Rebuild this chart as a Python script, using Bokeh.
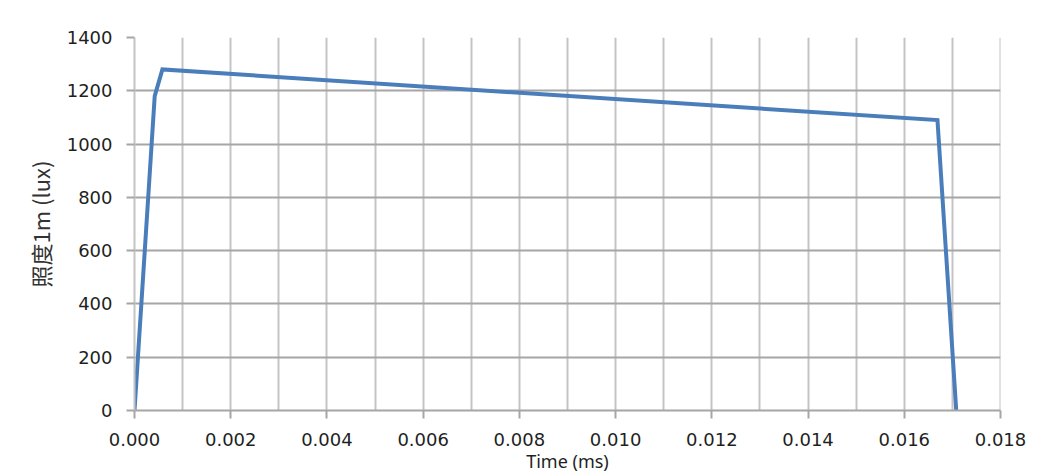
from bokeh.plotting import figure
from bokeh.models import SingleIntervalTicker, PrintfTickFormatter, Range1d
from bokeh.embed import file_html
from bokeh.resources import INLINE

# Data (time as labelled on the axis, illuminance at 1 m in lux)
time_vals = [0.0, 0.00042, 0.00058, 0.01669, 0.01708]
lux_vals = [0, 1180, 1280, 1090, 0]

x_title = "Time (ms)"
y_title = "照度1m (lux)"

W, H = 1032, 476
p = figure(width=W, height=H, output_backend="svg", toolbar_location=None,
           x_range=Range1d(0, 0.0180001), y_range=Range1d(0, 1400),
           min_border_left=134, min_border_right=W - 1000, min_border_top=37,
           min_border_bottom=H - 410)
p.outline_line_color = None
p.background_fill_color = "white"
p.border_fill_color = "white"

p.line(time_vals, lux_vals, line_color="#4a7ebb", line_width=4, line_join="miter")

# axes
p.xaxis.ticker = SingleIntervalTicker(interval=0.002)
p.xaxis.formatter = PrintfTickFormatter(format="%.3f")
p.yaxis.ticker = SingleIntervalTicker(interval=200)
for ax in (p.xaxis[0], p.yaxis[0]):
    ax.major_label_text_font = "DejaVu Sans"
    ax.major_label_text_font_size = "18px"
    ax.major_label_text_color = "#1f1f1f"
    ax.minor_tick_line_color = None
    ax.major_tick_in = 0
    ax.major_tick_out = 8
    ax.major_tick_line_width = 2
    ax.axis_label_text_font_style = "normal"
ax = p.xaxis[0]
ax.axis_line_color = "#a6a6a6"
ax.axis_line_width = 2
ax.major_tick_line_color = "#a6a6a6"
ax.major_label_standoff = 14
ax.axis_label = x_title
ax.axis_label_text_font = "Noto Sans"
ax.axis_label_text_font_size = "18px"
ax.axis_label_text_color = "#1f1f1f"
ax.axis_label_standoff = 0
ay = p.yaxis[0]
ay.axis_line_color = "#c4c4c4"
ay.axis_line_width = 2
ay.major_tick_line_color = "#a6a6a6"
ay.major_label_standoff = 14
ay.axis_label = y_title
ay.axis_label_text_font = "Noto Sans CJK SC"
ay.axis_label_text_font_size = "22px"
ay.axis_label_text_color = "#333333"
ay.axis_label_standoff = 8

# grids
p.xgrid[0].ticker = SingleIntervalTicker(interval=0.001)
p.xgrid[0].grid_line_color = "#c4c4c4"
p.xgrid[0].grid_line_width = 2
p.ygrid[0].grid_line_color = "#a6a6a6"
p.ygrid[0].grid_line_width = 2

open("out.html", "w").write(file_html(p, INLINE))
